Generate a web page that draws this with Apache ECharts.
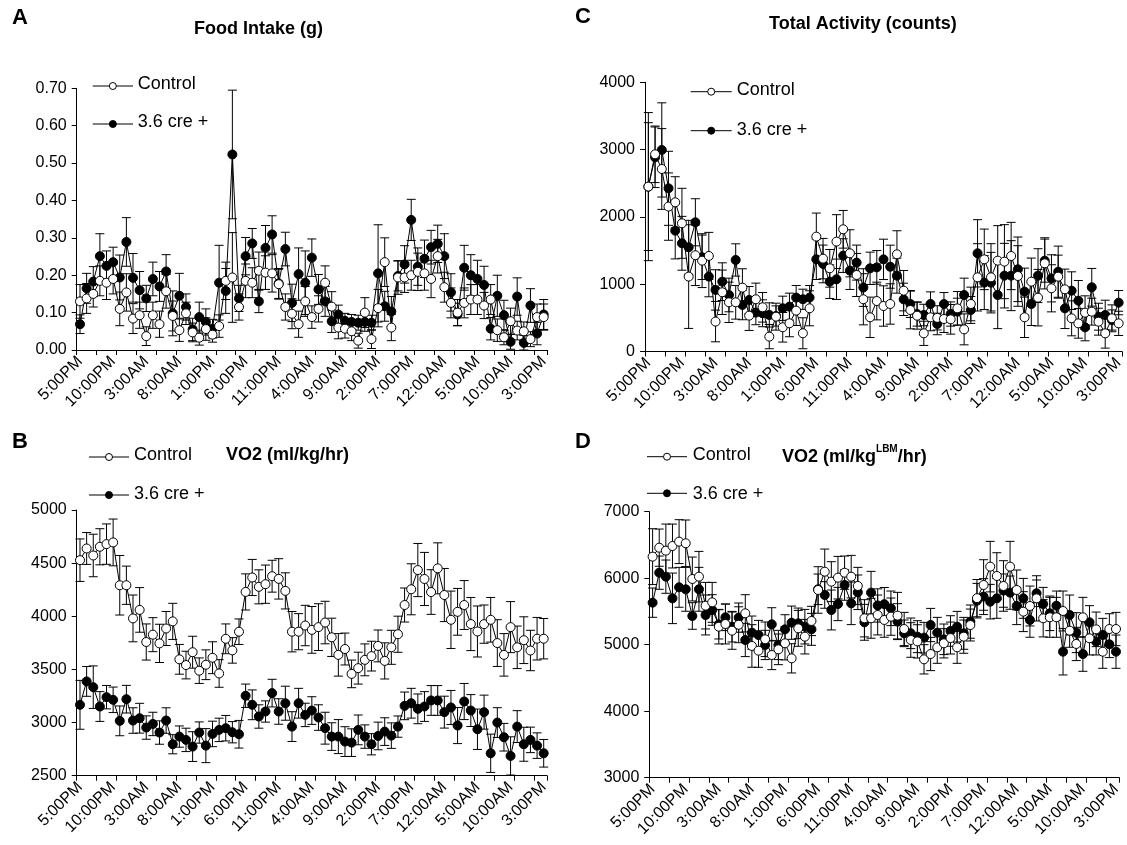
<!DOCTYPE html>
<html><head><meta charset="utf-8">
<script src="https://cdn.jsdelivr.net/npm/echarts@6/dist/echarts.min.js"></script>
<style>html,body{margin:0;padding:0;background:#fff}#c{width:1127px;height:845px}</style>
</head><body><div id="c"></div>
<script>
const categories = ['5:00PM','6:00PM','7:00PM','8:00PM','9:00PM','10:00PM','11:00PM','12:00AM','1:00AM','2:00AM',
'3:00AM','4:00AM','5:00AM','6:00AM','7:00AM','8:00AM','9:00AM','10:00AM','11:00AM','12:00PM',
'1:00PM','2:00PM','3:00PM','4:00PM','5:00PM','6:00PM','7:00PM','8:00PM','9:00PM','10:00PM',
'11:00PM','12:00AM','1:00AM','2:00AM','3:00AM','4:00AM','5:00AM','6:00AM','7:00AM','8:00AM',
'9:00AM','10:00AM','11:00AM','12:00PM','1:00PM','2:00PM','3:00PM','4:00PM','5:00PM','6:00PM',
'7:00PM','8:00PM','9:00PM','10:00PM','11:00PM','12:00AM','1:00AM','2:00AM','3:00AM','4:00AM',
'5:00AM','6:00AM','7:00AM','8:00AM','9:00AM','10:00AM','11:00AM','12:00PM','1:00PM','2:00PM',
'3:00PM'];

// Panel A: Food Intake (g)
const foodControl = [0.130,0.138,0.150,0.185,0.180,0.190,0.110,0.154,0.084,0.093,
 0.037,0.093,0.069,0.157,0.091,0.053,0.098,0.047,0.033,0.056,
 0.041,0.064,0.185,0.194,0.115,0.185,0.180,0.212,0.207,0.205,
 0.176,0.115,0.097,0.069,0.130,0.088,0.110,0.180,0.116,0.060,
 0.057,0.050,0.025,0.100,0.029,0.112,0.235,0.060,0.194,0.194,
 0.200,0.209,0.205,0.190,0.251,0.168,0.126,0.100,0.126,0.135,
 0.135,0.119,0.135,0.053,0.034,0.077,0.052,0.050,0.029,0.088,
 0.088];
const foodCre = [0.069,0.165,0.183,0.251,0.225,0.235,0.194,0.289,0.193,0.160,
 0.138,0.190,0.170,0.210,0.098,0.145,0.115,0.055,0.088,0.075,
 0.057,0.180,0.158,0.523,0.138,0.251,0.285,0.130,0.273,0.309,
 0.178,0.270,0.126,0.203,0.180,0.247,0.162,0.130,0.077,0.095,
 0.078,0.075,0.073,0.075,0.073,0.205,0.117,0.103,0.198,0.229,
 0.348,0.223,0.244,0.275,0.284,0.251,0.154,0.095,0.220,0.200,
 0.190,0.174,0.057,0.145,0.093,0.022,0.143,0.019,0.119,0.044,
 0.095];
const foodControlErr = [0.045,0.040,0.035,0.040,0.045,0.040,0.045,0.050,0.040,0.035,
 0.025,0.035,0.035,0.045,0.040,0.030,0.030,0.025,0.020,0.030,
 0.020,0.030,0.050,0.120,0.035,0.045,0.040,0.050,0.045,0.050,
 0.040,0.035,0.040,0.035,0.040,0.030,0.035,0.045,0.040,0.030,
 0.025,0.025,0.020,0.040,0.025,0.050,0.065,0.035,0.045,0.040,
 0.040,0.050,0.045,0.050,0.045,0.040,0.040,0.035,0.040,0.040,
 0.040,0.035,0.040,0.030,0.020,0.035,0.025,0.025,0.020,0.035,
 0.035];
const foodCreErr = [0.025,0.040,0.040,0.060,0.040,0.040,0.060,0.065,0.065,0.050,
 0.035,0.045,0.040,0.045,0.060,0.060,0.035,0.030,0.040,0.035,
 0.025,0.100,0.060,0.172,0.035,0.050,0.040,0.030,0.060,0.050,
 0.040,0.045,0.050,0.070,0.085,0.050,0.040,0.040,0.030,0.025,
 0.020,0.020,0.020,0.025,0.020,0.130,0.040,0.040,0.040,0.050,
 0.055,0.050,0.050,0.045,0.050,0.060,0.050,0.030,0.060,0.055,
 0.050,0.050,0.030,0.055,0.040,0.020,0.050,0.020,0.045,0.030,
 0.040];

// Panel B: VO2 (ml/kg/hr)
const vo2Control = [4528,4638,4572,4654,4679,4695,4292,4292,3980,4060,
 3758,3827,3745,3885,3952,3595,3541,3662,3488,3544,
 3610,3462,3788,3679,3855,4229,4365,4277,4302,4377,
 4352,4239,3855,3855,3913,3872,3898,3941,3802,3637,
 3692,3458,3512,3590,3625,3721,3580,3708,3831,4106,
 4254,4435,4351,4228,4451,4200,3967,4042,4106,3927,
 3857,3926,3967,3748,3637,3898,3708,3775,3678,3789,
 3789];
const vo2Cre = [3167,3387,3333,3151,3239,3214,3016,3220,3019,3041,
 2953,2987,2906,3019,2796,2868,2837,2774,2906,2783,
 2893,2931,2947,2909,2890,3252,3167,3057,3104,3277,
 3104,3182,2962,3182,3072,3113,3047,2947,2868,2868,
 2821,2811,2931,2868,2796,2874,2915,2877,2962,3157,
 3182,3129,3151,3208,3208,3098,3142,2972,3198,3113,
 2937,3098,2711,3000,2862,2686,2962,2796,2837,2783,
 2711];
const vo2ControlErr = [200,150,200,170,190,220,280,180,220,210,
 170,160,180,160,170,140,130,150,120,140,
 150,130,140,120,120,170,170,160,180,150,
 190,170,190,170,190,220,220,200,180,200,
 150,130,150,150,140,150,170,160,170,160,
 240,250,250,210,240,250,270,220,230,250,
 240,180,210,220,200,240,200,220,190,200,
 190];
const vo2CreErr = [230,140,200,140,110,120,140,130,120,140,
 110,110,110,120,90,100,110,140,100,160,
 120,110,120,100,130,110,140,110,100,130,
 120,160,140,140,110,130,120,150,130,160,
 140,130,140,110,100,130,130,120,100,130,
 140,140,140,140,140,150,160,170,170,150,
 190,160,180,140,130,180,150,160,120,120,
 130];

// Panel C: Total Activity (counts)
const actControl = [2450,2930,2712,2153,2217,1905,1113,1430,1350,1420,
 444,880,731,731,949,533,776,657,221,518,
 360,419,607,271,642,1707,1380,1236,1633,1816,
 1459,1137,776,508,750,676,706,1444,904,617,
 532,270,508,500,483,478,641,329,706,1102,
 1369,1102,1350,1335,1419,1122,508,1038,800,1310,
 939,1112,924,493,418,577,592,443,270,493,
 418];
const actCre = [2450,2886,2995,2425,1796,1608,1549,1920,1400,1113,
 915,1038,840,1360,692,766,578,568,543,528,
 642,667,801,776,801,1370,1301,1038,1073,1425,
 1202,1321,950,1236,1250,1369,1260,1127,775,706,
 557,542,706,409,706,557,592,840,617,1459,
 1023,1023,840,1127,1127,1221,889,706,1127,1350,
 1087,1186,641,904,755,359,954,517,542,468,
 726];
const actControlErr = [1100,420,600,500,380,520,770,450,400,350,
 300,330,300,250,280,220,240,220,180,200,
 220,200,220,230,260,350,300,280,400,280,
 350,320,380,300,280,300,300,350,300,280,
 200,180,200,180,200,220,250,230,250,500,
 450,500,520,550,500,450,300,350,420,380,
 350,320,300,260,220,250,200,200,220,200,
 180];
const actCreErr = [950,450,700,550,420,400,400,350,330,300,
 300,280,250,240,220,200,180,200,180,150,
 180,200,180,150,180,300,280,250,300,250,
 280,260,280,240,250,300,320,260,240,200,
 180,160,180,160,170,180,200,250,200,500,
 400,450,500,480,520,480,350,320,400,320,
 350,380,300,280,300,200,280,200,220,150,
 180];

// Panel D: VO2 (ml/kg LBM/hr)
const lbmControl = [6324,6459,6414,6484,6550,6525,5988,6023,5587,5637,
 5271,5311,5211,5300,5472,4981,4910,5081,4845,4930,
 5021,4795,5246,5121,5357,5823,6098,5948,6008,6083,
 6023,5883,5397,5397,5447,5372,5422,5437,5236,5071,
 5050,4780,4860,4960,5021,5100,4960,5121,5296,5700,
 5898,6174,6033,5883,6174,5823,5497,5582,5697,5397,
 5412,5412,5507,5211,5011,5412,5096,5231,4895,5236,
 5236];
const lbmCre = [5632,6083,6023,5697,5863,5833,5432,5833,5447,5522,
 5306,5412,5271,5407,5071,5181,5146,4996,5306,4996,
 5231,5331,5321,5271,5231,5833,5748,5522,5612,5898,
 5622,5788,5337,5783,5590,5610,5547,5347,5171,5171,
 5121,5106,5296,5181,5081,5206,5271,5171,5347,5662,
 5723,5647,5697,5813,5783,5582,5697,5372,5773,5612,
 5472,5587,4895,5447,5181,4860,5337,5046,5146,5006,
 4895];
const lbmControlErr = [420,280,400,330,330,350,330,380,350,300,
 260,300,280,270,280,320,250,260,220,230,
 250,220,270,260,220,350,340,300,320,250,
 320,280,280,300,300,260,280,350,250,260,
 250,220,250,240,220,240,240,250,240,280,
 380,380,350,380,380,300,300,300,340,280,
 300,300,300,250,250,300,250,260,250,230,
 250];
const lbmCreErr = [220,250,250,380,300,330,200,330,300,230,
 220,200,230,220,250,250,220,220,250,220,
 220,250,230,260,240,230,200,300,250,230,
 320,260,270,320,250,250,260,270,200,230,
 240,230,250,230,230,230,230,240,250,260,
 270,260,300,250,250,280,300,260,200,250,
 260,220,350,300,300,260,250,200,250,200,
 250];

const FONT = 'Liberation Sans, Arial, Helvetica, sans-serif';
const chart = echarts.init(document.getElementById('c'), null, {renderer:'canvas'});

const panels = [
  {grid:{left:76.7, top:88.3, width:470.3, height:261.7}, min:0, max:0.7, interval:0.1, fmt:v=>v.toFixed(2),
   ctrl:foodControl, cre:foodCre, ctrlErr:foodControlErr, creErr:foodCreErr},
  {grid:{left:76.7, top:510, width:470.3, height:265.7}, min:2500, max:5000, interval:500, fmt:v=>String(v),
   ctrl:vo2Control, cre:vo2Cre, ctrlErr:vo2ControlErr, creErr:vo2CreErr},
  {grid:{left:645, top:82.3, width:477, height:269.2}, min:0, max:4000, interval:1000, fmt:v=>String(v),
   ctrl:actControl, cre:actCre, ctrlErr:actControlErr, creErr:actCreErr},
  {grid:{left:649.3, top:511.7, width:470, height:266}, min:3000, max:7000, interval:1000, fmt:v=>String(v),
   ctrl:lbmControl, cre:lbmCre, ctrlErr:lbmControlErr, creErr:lbmCreErr}
];

function errRender(params, api){
  const x = api.value(0), lo = api.value(1), hi = api.value(2);
  const p1 = api.coord([x, hi]), p2 = api.coord([x, lo]);
  const hw = 4.5, st = {stroke:'#000', lineWidth:1};
  return {type:'group', children:[
    {type:'line', shape:{x1:p1[0],y1:p1[1],x2:p2[0],y2:p2[1]}, style:st},
    {type:'line', shape:{x1:p1[0]-hw,y1:p1[1],x2:p1[0]+hw,y2:p1[1]}, style:st},
    {type:'line', shape:{x1:p2[0]-hw,y1:p2[1],x2:p2[0]+hw,y2:p2[1]}, style:st}
  ]};
}

const grids=[], xAxes=[], yAxes=[], series=[];
panels.forEach((p,i)=>{
  grids.push(p.grid);
  xAxes.push({type:'category', gridIndex:i, data:categories, boundaryGap:true,
    axisLine:{lineStyle:{color:'#000', width:1}},
    axisTick:{show:true, interval:2, length:5, lineStyle:{color:'#000'}},
    axisLabel:{interval:4, rotate:45, fontSize:16, color:'#000', fontFamily:FONT, margin:9},
    splitLine:{show:false}});
  yAxes.push({type:'value', gridIndex:i, min:p.min, max:p.max, interval:p.interval,
    axisLine:{show:true, lineStyle:{color:'#000', width:1}},
    axisTick:{show:true, length:5, lineStyle:{color:'#000'}},
    axisLabel:{formatter:p.fmt, fontSize:16, color:'#000', fontFamily:FONT, margin:10},
    splitLine:{show:false}});
  const mk = (vals, errs) => vals.map((v,k)=>[k, Math.max(p.min, v-errs[k]), Math.min(p.max, v+errs[k])]);
  series.push({type:'custom', xAxisIndex:i, yAxisIndex:i, renderItem:errRender, data:mk(p.cre,p.creErr), encode:{x:0,y:[1,2]}, z:1, silent:true});
  series.push({type:'custom', xAxisIndex:i, yAxisIndex:i, renderItem:errRender, data:mk(p.ctrl,p.ctrlErr), encode:{x:0,y:[1,2]}, z:1, silent:true});
  series.push({type:'line', name:'3.6 cre +', xAxisIndex:i, yAxisIndex:i, data:p.cre, symbol:'circle', symbolSize:9, showAllSymbol:true,
    lineStyle:{color:'#000', width:1}, itemStyle:{color:'#000', borderColor:'#000', borderWidth:1}, z:2});
  series.push({type:'line', name:'Control', xAxisIndex:i, yAxisIndex:i, data:p.ctrl, symbol:'circle', symbolSize:9, showAllSymbol:true,
    lineStyle:{color:'#000', width:1}, itemStyle:{color:'#fff', borderColor:'#000', borderWidth:1}, z:3});
});

function legendItems(x1, x2, yc, ytxt, tx, label, filled){
  const mx = (x1+x2)/2;
  return [
    {type:'line', shape:{x1:x1,y1:yc,x2:x2,y2:yc}, style:{stroke:'#000', lineWidth:1}},
    {type:'circle', shape:{cx:mx, cy:yc, r:3.5}, style:{fill:filled?'#000':'#fff', stroke:'#000', lineWidth:1}},
    {type:'text', x:tx, y:ytxt, style:{text:label, font:'18px '+FONT, fill:'#000', textVerticalAlign:'middle'}}
  ];
}
function txt(x,y,t,size,bold,align){
  return {type:'text', x:x, y:y, style:{text:t, font:(bold?'bold ':'')+size+'px '+FONT, fill:'#000', textVerticalAlign:'middle', textAlign:align||'left'}};
}

const graphics = [].concat(
  [txt(12,18,'A',22,true), txt(575,17,'C',22,true), txt(12,442,'B',22,true), txt(575,442,'D',22,true)],
  [txt(194,29,'Food Intake (g)',18,true), txt(769,24,'Total Activity (counts)',18,true), txt(226,455,'VO2 (ml/kg/hr)',18,true)],
  [{type:'text', x:782, y:455, style:{text:'{a|VO2 (ml/kg}{s|LBM}{a|/hr)}', textVerticalAlign:'middle',
     rich:{a:{font:'bold 18px '+FONT, fill:'#000', lineHeight:22, verticalAlign:'bottom'}, s:{font:'bold 10px '+FONT, fill:'#000', lineHeight:22, verticalAlign:'top'}}}}],
  legendItems(92.7,133,86,84,137.7,'Control',false),
  legendItems(92.7,133,124,122,137.7,'3.6 cre +',true),
  legendItems(690.7,731.7,91.7,90,736.7,'Control',false),
  legendItems(690.7,731.7,130.7,130,736.7,'3.6 cre +',true),
  legendItems(89,129,457,455.5,134,'Control',false),
  legendItems(89,129,495,494,134,'3.6 cre +',true),
  legendItems(647,687,456.7,455.5,692.7,'Control',false),
  legendItems(647,687,493.3,494,692.7,'3.6 cre +',true)
);

chart.setOption({animation:false, backgroundColor:'#fff', grid:grids, xAxis:xAxes, yAxis:yAxes, series:series, graphic:graphics});
</script></body></html>
